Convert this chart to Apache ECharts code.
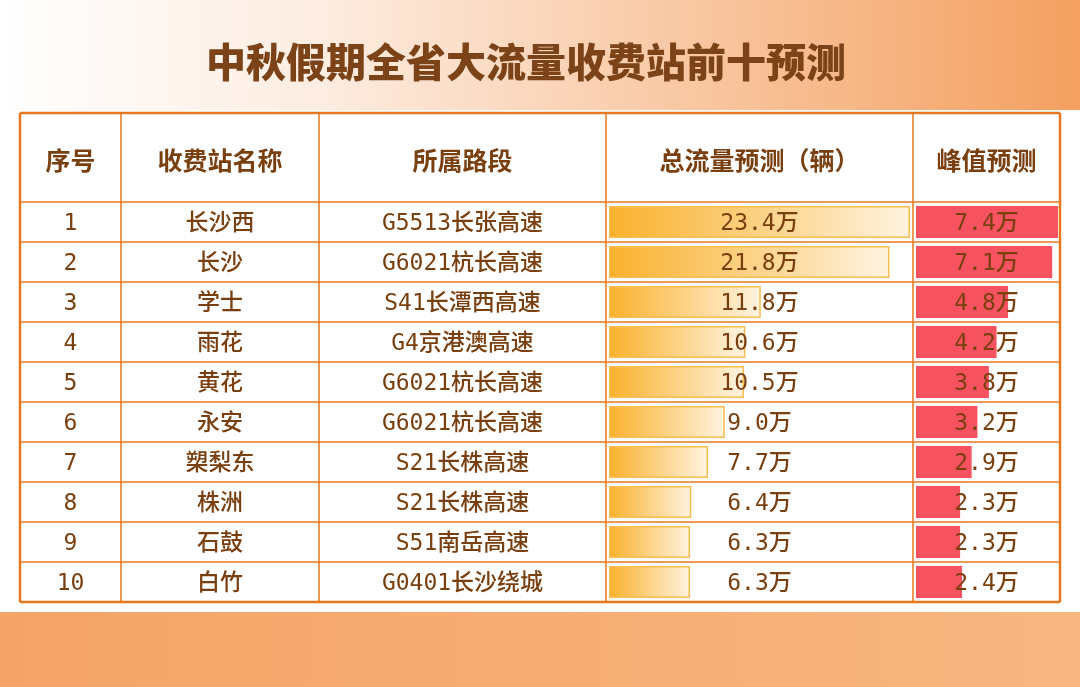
<!DOCTYPE html>
<html><head><meta charset="utf-8">
<script src="https://cdn.jsdelivr.net/npm/echarts@6/dist/echarts.min.js"></script>
<style>html,body{margin:0;padding:0;background:#fff}#c{width:1080px;height:687px}</style>
</head><body><div id="c"></div>
<script>
const title = '中秋假期全省大流量收费站前十预测';
const headers = ['序号','收费站名称','所属路段','总流量预测（辆）','峰值预测'];
const ranks = ['1','2','3','4','5','6','7','8','9','10'];
const stations = ['长沙西','长沙','学士','雨花','黄花','永安','槊梨东','株洲','石鼓','白竹'];
const roads = ['G5513长张高速','G6021杭长高速','S41长潭西高速','G4京港澳高速','G6021杭长高速','G6021杭长高速','S21长株高速','S21长株高速','S51南岳高速','G0401长沙绕城'];
const totals = [23.4,21.8,11.8,10.6,10.5,9.0,7.7,6.4,6.3,6.3];
const peaks = [7.4,7.1,4.8,4.2,3.8,3.2,2.9,2.3,2.3,2.4];

const colX = [20,121,319,606,913,1060];
const top0 = 113, headB = 202, bot = 602;
const txt = '#7a3f0f';
const font = '"Noto Sans CJK SC"';
const monoFont = '"DejaVu Sans Mono","Noto Sans CJK SC"';
const chart = echarts.init(document.getElementById('c'));

const g = [];
g.push({type:'rect',shape:{x:0,y:0,width:1080,height:110},z:-10,style:{fill:new echarts.graphic.LinearGradient(0,0,1,0,[{offset:0,color:'#ffffff'},{offset:0.3,color:'#fdece0'},{offset:1,color:'#f4a060'}])}});
g.push({type:'rect',shape:{x:0,y:612,width:1080,height:75},z:-10,style:{fill:new echarts.graphic.LinearGradient(0,0,1,0,[{offset:0,color:'#f5a466'},{offset:1,color:'#f7b680'}])}});
g.push({type:'text',x:526,y:62,style:{text:title,font:'900 40px '+font,fill:'#7b4317',align:'center',verticalAlign:'middle'}});
headers.forEach((h,i)=>g.push({type:'text',x:(colX[i]+colX[i+1])/2,y:160,z:5,style:{text:h,font:'bold 25px '+font,fill:txt,align:'center',verticalAlign:'middle'}}));
const lc='#e8771e';
colX.forEach((x,i)=>g.push({type:'line',z:10,shape:{x1:x,y1:top0,x2:x,y2:bot},style:{stroke:lc,lineWidth:(i==0||i==5)?2.5:1.5}}));
g.push({type:'line',z:10,shape:{x1:20,y1:top0,x2:1060,y2:top0},style:{stroke:lc,lineWidth:2.5}});
for(let r=0;r<=10;r++){const y=headB+r*40;g.push({type:'line',z:10,shape:{x1:20,y1:y,x2:1060,y2:y},style:{stroke:lc,lineWidth:r==10?2.5:1.5}});}

function textSeries(arr,cx){
  return {type:'custom',xAxisIndex:0,yAxisIndex:0,z:20,data:arr.map((v,i)=>[i,v]),
    renderItem:(p,api)=>{const y=api.coord([0,api.value(0)])[1];
      return {type:'text',x:cx,y:y+2,style:{text:arr[api.value(0)],font:'500 23px '+monoFont,fill:txt,align:'center',verticalAlign:'middle'}};}};
}
const cats = ranks;
chart.setOption({
  animation:false,
  graphic:g,
  grid:[{left:609,top:headB,width:301,height:400},{left:916,top:headB,width:142,height:400}],
  xAxis:[{type:'value',gridIndex:0,min:0,max:23.4,show:false},{type:'value',gridIndex:1,min:0,max:7.4,show:false}],
  yAxis:[{type:'category',gridIndex:0,data:cats,inverse:true,show:false},{type:'category',gridIndex:1,data:cats,inverse:true,show:false}],
  series:[
    {type:'bar',xAxisIndex:0,yAxisIndex:0,data:totals,barWidth:32,
     itemStyle:{color:new echarts.graphic.LinearGradient(0,0,1,0,[{offset:0,color:'#f9b12c'},{offset:1,color:'#fff3e0'}]),borderColor:'#f7bd4f',borderWidth:1.5}},
    {type:'bar',xAxisIndex:1,yAxisIndex:1,data:peaks,barWidth:32,itemStyle:{color:'#f7525f'}},
    textSeries(ranks,(colX[0]+colX[1])/2),
    textSeries(stations,(colX[1]+colX[2])/2),
    textSeries(roads,(colX[2]+colX[3])/2),
    textSeries(totals.map(v=>v.toFixed(1)+'万'),(colX[3]+colX[4])/2),
    textSeries(peaks.map(v=>v.toFixed(1)+'万'),(colX[4]+colX[5])/2)
  ]
});
</script></body></html>
